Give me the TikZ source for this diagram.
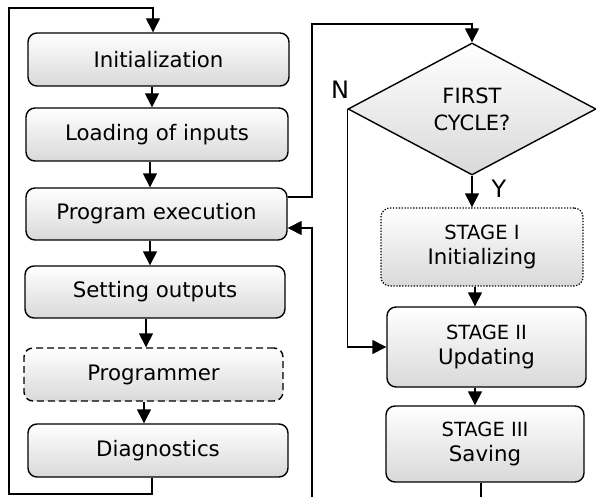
\documentclass[tikz,border=0pt]{standalone}
\usepackage{fontspec}
\setmainfont{DejaVu Sans}
\usetikzlibrary{shapes.geometric,arrows.meta}
\tikzset{
  box/.style={draw, line width=1.4pt, rounded corners=9pt, top color=white, bottom color=black!15,
    inner sep=0pt, font=\fontsize{21.3}{25}\selectfont, align=center},
  dashbox/.style={box, dash pattern=on 7pt off 4pt},
  dotbox/.style={box, line width=1.3pt, dash pattern=on 1.3pt off 1.6pt},
  decision/.style={draw, diamond, line width=1.4pt, top color=white, bottom color=black!15,
    inner sep=0pt, font=\fontsize{21}{27}\selectfont, align=center},
  conn/.style={line width=1.4pt},
  arr/.style={conn, -{Triangle[length=14pt,width=14pt]}},
  lab/.style={font=\fontsize{24}{26}\selectfont, inner sep=0pt}
}
\newcommand{\stg}[1]{{\fontsize{19.5}{22}\selectfont #1}}
\begin{document}
\begin{tikzpicture}[x=1pt,y=-1pt]
\useasboundingbox (0,0) rectangle (596,497);
% left column
\node[box, minimum width=261pt, minimum height=53pt] (init) at (158.5,59.5) {Initialization};
\node[box, minimum width=262pt, minimum height=53pt] (load) at (157,134.5) {Loading of inputs};
\node[box, minimum width=261pt, minimum height=52pt] (pe) at (156.5,214) {Program execution};
\node[box, minimum width=260pt, minimum height=52pt] (so) at (155,292) {Setting outputs};
\node[dashbox, minimum width=259pt, minimum height=53pt] (prog) at (153.5,374.5) {Programmer};
\node[box, minimum width=260pt, minimum height=53pt] (diag) at (158,450.5) {Diagnostics};
% right column
\node[decision, minimum width=248pt, minimum height=132pt] (dec) at (472,109) {FIRST\\CYCLE?};
\node[dotbox, minimum width=202pt, minimum height=78pt] (s1) at (482,247) {\stg{STAGE I}\\Initializing};
\node[box, minimum width=199pt, minimum height=80pt] (s2) at (486.5,347) {\stg{STAGE II}\\Updating};
\node[box, minimum width=198pt, minimum height=76pt] (s3) at (485,444) {\stg{STAGE III}\\Saving};
\node[lab] (nlab) at (340,90) {N};
\node[lab] (ylab) at (499,189) {Y};
% helper coordinates
\coordinate (x144) at (144,0);
\coordinate (x146) at (146,0);
\coordinate (x150) at (150,0);
\coordinate (x152) at (152,0);
\coordinate (x153) at (153,0);
\coordinate (x475) at (475,0);
\coordinate (x481) at (481,0);
\coordinate (y197) at (0,197);
\coordinate (y228) at (0,228);
\coordinate (bl) at (9,494);
\coordinate (tl) at (9,8);
\coordinate (tm) at (153,8);
\coordinate (r1) at (312,197);
\coordinate (r2) at (312,24);
\coordinate (r3) at (312,228);
\coordinate (r4) at (312,497);
\coordinate (sb) at (481,497);
% left chain
\draw[arr] (init.south -| x152) -- (load.north -| x152);
\draw[arr] (load.south -| x150) -- (pe.north -| x150);
\draw[arr] (pe.south -| x150) -- (so.north -| x150);
\draw[arr] (so.south -| x146) -- (prog.north -| x146);
\draw[arr] (prog.south -| x144) -- (diag.north -| x144);
% outer loop
\draw[arr] (diag.south -| x152) |- (bl) -- (tl) -- (tm) -- (init.north -| x153);
% to decision
\draw[arr] (pe.east |- y197) -- (r1) -- (r2) -- (r2 -| dec.north) -- (dec.north);
\draw[arr] (r4) -- (r3) -- (pe.east |- y228);
% right chain
\draw[arr] (dec.south) -- (s1.north -| dec.south);
\draw[arr] (s1.south -| x475) -- (s2.north -| x475);
\draw[arr] (s2.south -| x475) -- (s3.north -| x475);
\draw[conn] (s3.south -| x481) -- (sb);
\draw[arr] (dec.west) -- (dec.west |- s2.west) -- (s2.west);
\end{tikzpicture}
\end{document}
